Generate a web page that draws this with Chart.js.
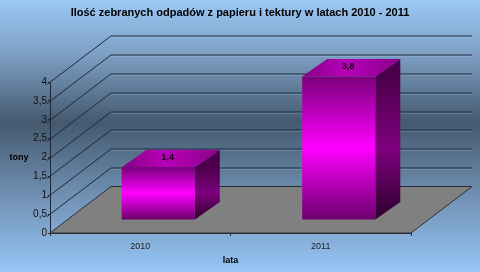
<!DOCTYPE html>
<html>
<head>
<meta charset="utf-8">
<script src="https://cdn.jsdelivr.net/npm/chart.js@4/dist/chart.umd.min.js"></script>
<style>
    html, body { margin: 0; padding: 0; background: #93c1ee; }
    canvas { display: block; }
</style>
</head>
<body>
<canvas id="chart" width="480" height="272"></canvas>
<script>
    // Data
    var years = ["2010", "2011"];
    var tons = [1.4, 3.8];
    var tonLabels = ["1,4", "3,8"];

    var FONT = "'Liberation Sans', Arial, sans-serif";

    // 3D offsets (back wall depth, bar plane, bar depth)
    var WALL_DX = 61, WALL_DY = -46.5;
    var BAR_DX = 18, BAR_DY = -13;
    var BOX_DX = 25, BOX_DY = -17.5;

    var pseudo3d = {
        id: "pseudo3d",
        beforeDraw: function (chart) {
            var c = chart.ctx;
            var g = c.createLinearGradient(0, 0, 0, chart.height);
            g.addColorStop(0, "#9bc8f5");
            g.addColorStop(0.2, "#7d9fc3");
            g.addColorStop(0.45, "#44596f");
            g.addColorStop(0.75, "#7596ba");
            g.addColorStop(1, "#96c6f6");
            c.save();
            c.fillStyle = g;
            c.fillRect(0, 0, chart.width, chart.height);
            c.restore();
        },
        beforeDatasetsDraw: function (chart) {
            var c = chart.ctx, y = chart.scales.y, a = chart.chartArea;
            c.save();
            // floor
            var y0 = y.getPixelForValue(0);
            c.fillStyle = "#808080";
            c.beginPath();
            c.moveTo(a.left, y0);
            c.lineTo(a.right, y0);
            c.lineTo(a.right + WALL_DX, y0 + WALL_DY);
            c.lineTo(a.left + WALL_DX, y0 + WALL_DY);
            c.closePath();
            c.fill();
            c.strokeStyle = "#2a2f36";
            c.lineWidth = 1;
            c.stroke();
            // back wall grid lines
            y.ticks.forEach(function (t) {
                if (t.value === 0) return;
                var py = Math.round(y.getPixelForValue(t.value)) + 0.5;
                c.strokeStyle = "rgba(200,225,250,0.35)";
                c.beginPath();
                c.moveTo(a.left + WALL_DX, py + WALL_DY + 1);
                c.lineTo(a.right + WALL_DX, py + WALL_DY + 1);
                c.stroke();
                c.strokeStyle = "#1c2838";
                c.beginPath();
                c.moveTo(a.left - 3, py + 2);
                c.lineTo(a.left + WALL_DX, py + WALL_DY);
                c.lineTo(a.right + WALL_DX, py + WALL_DY);
                c.stroke();
            });
            c.restore();
        },
        afterDatasetsDraw: function (chart) {
            var c = chart.ctx;
            var meta = chart.getDatasetMeta(0);
            c.save();
            meta.data.forEach(function (bar, i) {
                var l = bar.x - bar.width / 2 + BAR_DX;
                var r = bar.x + bar.width / 2 + BAR_DX;
                var t = bar.y + BAR_DY;
                var b = bar.base + BAR_DY;

                // side face
                var gs = c.createLinearGradient(0, t, 0, b);
                gs.addColorStop(0, "#4c004c");
                gs.addColorStop(0.5, "#7e007e");
                gs.addColorStop(1, "#2c002c");
                c.fillStyle = gs;
                c.beginPath();
                c.moveTo(r, t);
                c.lineTo(r + BOX_DX, t + BOX_DY);
                c.lineTo(r + BOX_DX, b + BOX_DY);
                c.lineTo(r, b);
                c.closePath();
                c.fill();

                // top face
                var gt = c.createLinearGradient(l, 0, r + BOX_DX, 0);
                gt.addColorStop(0, "#860086");
                gt.addColorStop(0.45, "#b800b8");
                gt.addColorStop(1, "#8a008a");
                c.fillStyle = gt;
                c.beginPath();
                c.moveTo(l, t);
                c.lineTo(l + BOX_DX, t + BOX_DY);
                c.lineTo(r + BOX_DX, t + BOX_DY);
                c.lineTo(r, t);
                c.closePath();
                c.fill();

                // front face
                var gf = c.createLinearGradient(0, t, 0, b);
                gf.addColorStop(0, "#7a007a");
                gf.addColorStop(0.5, "#ff00ff");
                gf.addColorStop(1, "#6c006c");
                c.fillStyle = gf;
                c.fillRect(l, t, r - l, b - t);

                // value label
                c.fillStyle = "#1a001a";
                c.font = "bold 9px " + FONT;
                c.textAlign = "center";
                c.textBaseline = "middle";
                c.fillText(tonLabels[i], (l + r) / 2 + BOX_DX / 2 - 3, t + BOX_DY / 2 - 1);
            });
            c.restore();
        },
        afterDraw: function (chart) {
            var c = chart.ctx, a = chart.chartArea;
            c.save();
            c.fillStyle = "#000";
            c.textAlign = "center";
            c.textBaseline = "middle";
            c.font = "bold 11px " + FONT;
            c.fillText("Ilość zebranych odpadów z papieru i tektury w latach 2010 - 2011", 240, 13);
            c.font = "bold 9px " + FONT;
            c.fillText("tony", 19, chart.scales.y.getPixelForValue(2));
            c.fillText("lata", (a.left + a.right) / 2, 261);
            c.restore();
        }
    };

    var ctx = document.getElementById("chart").getContext("2d");
    var myChart = new Chart(ctx, {
        type: "bar",
        data: {
            labels: years,
            datasets: [{
                label: "tony",
                data: tons,
                backgroundColor: "rgba(0,0,0,0)",
                borderWidth: 0,
                barPercentage: 0.405,
                categoryPercentage: 1
            }]
        },
        options: {
            responsive: false,
            animation: false,
            layout: { padding: { top: 82, right: 69, left: 0, bottom: 0 } },
            plugins: {
                legend: { display: false },
                tooltip: { enabled: false }
            },
            scales: {
                y: {
                    min: 0,
                    max: 4,
                    ticks: {
                        stepSize: 0.5,
                        padding: 1,
                        color: "#111",
                        font: { family: FONT, size: 10 },
                        callback: function (v) { return String(v).replace(".", ","); }
                    },
                    grid: { drawOnChartArea: false, tickLength: 2, color: "#1c2838" },
                    border: { color: "#1c2838" },
                    afterFit: function (s) { s.width = 50; }
                },
                x: {
                    ticks: {
                        padding: 5,
                        color: "#222",
                        font: { family: FONT, size: 9 }
                    },
                    grid: { drawOnChartArea: false, tickLength: 3, color: "#2a2f36", offset: true },
                    border: { color: "#2a2f36" },
                    afterFit: function (s) { s.height = 39; }
                }
            }
        },
        plugins: [pseudo3d]
    });
</script>
</body>
</html>
